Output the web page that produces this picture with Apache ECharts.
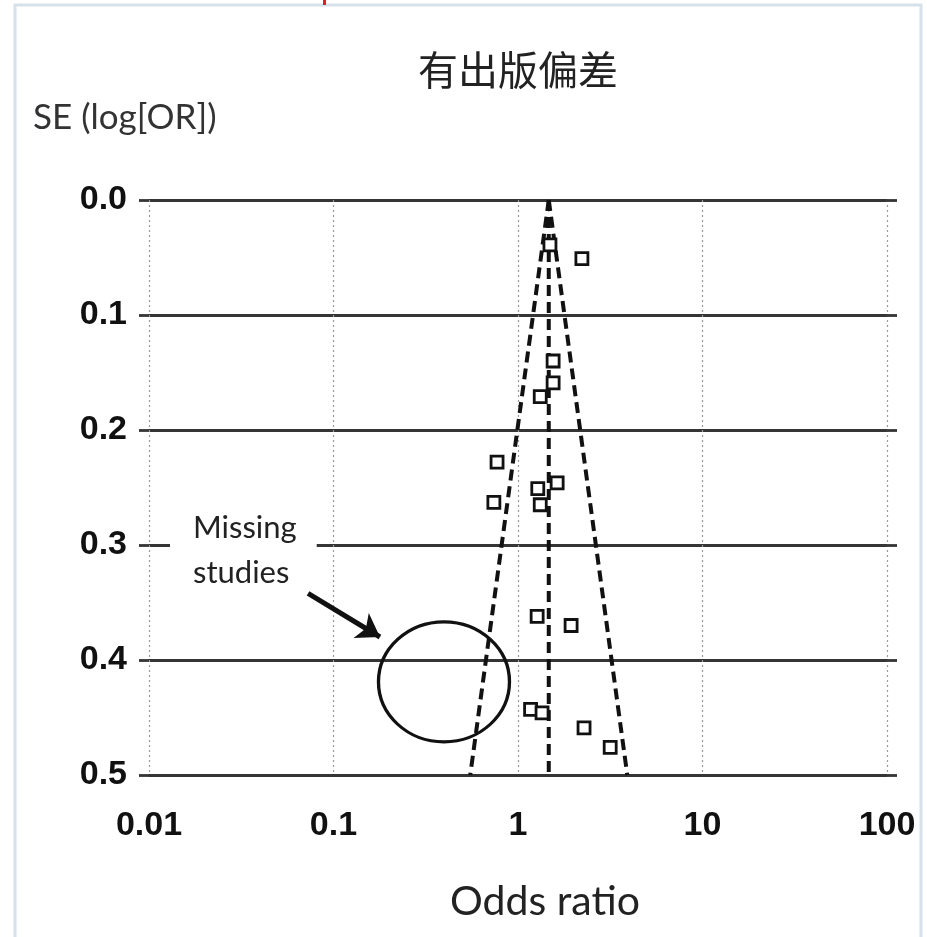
<!DOCTYPE html>
<html>
<head>
<meta charset="utf-8">
<script src="https://cdn.jsdelivr.net/npm/echarts@6/dist/echarts.min.js"></script>
<style>html,body{margin:0;padding:0;background:#fff;}#c{width:927px;height:937px;}</style>
</head>
<body>
<div id="c"></div>
<script>
// ---- data ----
const titleText = '有出版偏差';
const yAxisName = 'SE (log[OR])';
const xAxisName = 'Odds ratio';
const xTickLabels = ['0.01', '0.1', '1', '10', '100'];
const yTickLabels = ['0.0', '0.1', '0.2', '0.3', '0.4', '0.5'];
// studies: odds ratio and standard error of log(OR)
const studyOR = [1.49, 2.22, 1.55, 1.55, 1.32, 0.77, 1.63, 1.28, 0.74, 1.32, 1.27, 1.94, 1.17, 1.35, 2.28, 3.16];
const studySE = [0.039, 0.051, 0.140, 0.159, 0.171, 0.228, 0.246, 0.251, 0.263, 0.265, 0.362, 0.370, 0.443, 0.446, 0.459, 0.476];
const pooledOR = 1.468;
const seRange = [0, 0.5];
// annotation: missing studies region and arrow
const missingCenter = [0.397, 0.419];
const arrowFrom = [0.0728, 0.342];
const arrowTo = [0.1786, 0.380];
const missingLabel = 'Missing\nstudies';

// ---- build ----
const funnelLeft = seRange.map(se => [Math.exp(Math.log(pooledOR) - 1.96 * se), se]);
const funnelRight = seRange.map(se => [Math.exp(Math.log(pooledOR) + 1.96 * se), se]);
const funnelMid = seRange.map(se => [pooledOR, se]);
const points = studyOR.map((v, i) => [v, studySE[i]]);

const chart = echarts.init(document.getElementById('c'), null, {renderer: 'canvas'});
const lineCol = '#353535';
const dashStyle = {color: '#111', width: 4, type: [11, 6]};
const tickFont = {fontFamily: '"Liberation Sans Narrow", "Liberation Sans", Arial, sans-serif', fontWeight: 'bold', fontSize: 34, color: '#111'};

chart.setOption({
  backgroundColor: '#fff',
  animation: false,
  grid: {left: 149, right: 40, top: 200, bottom: 162, containLabel: false},
  xAxis: {
    type: 'log', logBase: 10, min: 0.01, max: 100,
    axisLine: {show: false}, axisTick: {show: false},
    splitLine: {show: true, lineStyle: {color: '#999', type: [2, 3], width: 1.2}},
    axisLabel: Object.assign({margin: 34, formatter: v => xTickLabels[Math.round(Math.log10(v)) + 2]}, tickFont)
  },
  yAxis: [{
    type: 'value', inverse: true, min: 0, max: 0.5, interval: 0.1,
    axisLine: {show: false},
    axisTick: {show: true, length: 10, lineStyle: {color: lineCol, width: 2.8}},
    splitLine: {show: true, lineStyle: {color: lineCol, width: 2.8}},
    axisLabel: Object.assign({margin: 22, formatter: (v, i) => yTickLabels[Math.round(v * 10)]}, tickFont)
  }, {
    type: 'value', inverse: true, min: 0, max: 0.5, interval: 0.1, position: 'right',
    axisLine: {show: false},
    axisTick: {show: true, length: 10, lineStyle: {color: lineCol, width: 2.8}},
    splitLine: {show: false}, axisLabel: {show: false}
  }],
  series: [
    {type: 'line', data: funnelLeft, symbol: 'none', lineStyle: dashStyle, silent: true, z: 3},
    {type: 'line', data: funnelRight, symbol: 'none', lineStyle: dashStyle, silent: true, z: 3},
    {type: 'line', data: funnelMid, symbol: 'none', lineStyle: dashStyle, silent: true, z: 3},
    {type: 'scatter', data: points, symbol: 'rect', symbolSize: 12, silent: true, z: 5,
      itemStyle: {color: '#fff', borderColor: '#111', borderWidth: 2.8, opacity: 1}},
    {type: 'scatter', data: [missingCenter], symbol: 'circle', symbolSize: [131, 120], silent: true, z: 4,
      itemStyle: {color: 'rgba(0,0,0,0)', borderColor: '#111', borderWidth: 3.2, opacity: 1}},
    {type: 'lines', coordinateSystem: 'cartesian2d', silent: true, z: 6,
      data: [{coords: [arrowFrom, arrowTo]}],
      symbol: ['none', 'arrow'], symbolSize: 22,
      lineStyle: {color: '#111', width: 5, opacity: 1}}
  ],
  graphic: [
    {type: 'rect', shape: {x: 15, y: 5, width: 906, height: 1000}, style: {fill: 'none', stroke: '#d6e2e9', lineWidth: 3}, z: 100},
    {type: 'rect', shape: {x: 323, y: 0, width: 3, height: 5}, style: {fill: '#e02020'}, z: 101},
    {type: 'text', x: 518, y: 70, z: 50, style: {text: titleText, font: '40px "Noto Sans CJK SC", sans-serif', fill: '#222', textAlign: 'center', textVerticalAlign: 'middle'}},
    {type: 'text', x: 33, y: 118, z: 50, style: {text: yAxisName, font: '35px Lato, sans-serif', fill: '#333', textAlign: 'left', textVerticalAlign: 'middle'}},
    {type: 'text', x: 545, y: 902, z: 50, style: {text: xAxisName, font: '41px Lato, sans-serif', fill: '#222', textAlign: 'center', textVerticalAlign: 'middle'}},
    {type: 'text', x: 170, y: 501, z: 1, style: {text: missingLabel, font: '31px Lato, sans-serif', lineHeight: 45, fill: '#222', textAlign: 'left', textVerticalAlign: 'top',
      backgroundColor: '#fff', padding: [4, 20, 0, 23]}}
  ]
});
</script>
</body>
</html>
